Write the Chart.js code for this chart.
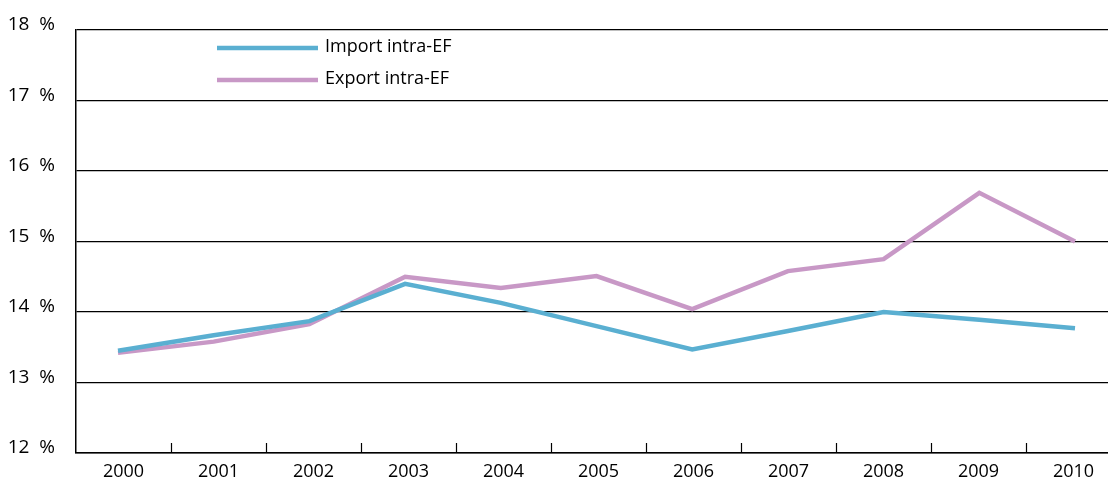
<!DOCTYPE html>
<html>
<head>
<meta charset="utf-8">
<script src="https://cdn.jsdelivr.net/npm/chart.js@4.4.1/dist/chart.umd.min.js"></script>
<style>
html,body{margin:0;padding:0;background:#fff;overflow:hidden;width:1108px;height:479px;}
#wrap{width:1121px;height:479px;position:relative;}
</style>
</head>
<body>
<div id="wrap"><canvas id="c"></canvas></div>
<script>
const years = ['2000','2001','2002','2003','2004','2005','2006','2007','2008','2009','2010'];
const importIntraEF = [13.45,13.67,13.87,14.40,14.13,13.80,13.47,13.73,14.00,13.89,13.77];
const exportIntraEF = [13.42,13.58,13.83,14.50,14.34,14.51,14.04,14.58,14.75,15.69,15.00];
const yTicks = [12,13,14,15,16,17,18];
const seriesNames = ['Import intra-EF','Export intra-EF'];
const colors = ['#5aafd1','#c898c6'];
const FONT = '"Open Sans", "Noto Sans", sans-serif';

const toPoints = arr => arr.map((v,i)=>({x:i, y:v}));

const customDraw = {
  id:'customDraw',
  afterDraw(chart){
    const {ctx, chartArea, scales} = chart;
    const x = scales.x;
    ctx.save();
    ctx.strokeStyle = '#000';
    ctx.lineWidth = 1.2;
    for(let i=1;i<years.length;i++){
      const px = Math.round((x.getPixelForValue(i-1)+x.getPixelForValue(i))/2)+0.5;
      ctx.beginPath();
      ctx.moveTo(px, chartArea.bottom);
      ctx.lineTo(px, chartArea.bottom-10);
      ctx.stroke();
    }
    const items = chart.data.datasets;
    const lx0 = 217, lx1 = 318, ly = [48, 80];
    ctx.font = '18px ' + FONT;
    ctx.textBaseline = 'middle';
    ctx.textAlign = 'left';
    items.forEach((ds,i)=>{
      ctx.strokeStyle = ds.borderColor;
      ctx.lineWidth = 4.5;
      ctx.beginPath();
      ctx.moveTo(lx0, ly[i]);
      ctx.lineTo(lx1, ly[i]);
      ctx.stroke();
      ctx.fillStyle = '#000';
      ctx.fillText(ds.label, 325, ly[i]-1);
    });
    ctx.restore();
  }
};

new Chart(document.getElementById('c'), {
  type:'line',
  data:{
    labels: years,
    datasets:[
      {label:seriesNames[0], data:toPoints(importIntraEF), xAxisID:'x2', borderColor:colors[0], backgroundColor:colors[0], borderWidth:4.5, pointRadius:0, tension:0, order:1},
      {label:seriesNames[1], data:toPoints(exportIntraEF), xAxisID:'x2', borderColor:colors[1], backgroundColor:colors[1], borderWidth:4.5, pointRadius:0, tension:0, order:2}
    ]
  },
  options:{
    responsive:true,
    maintainAspectRatio:false,
    animation:false,
    layout:{padding:{top:30,right:0,bottom:0,left:0}},
    plugins:{legend:{display:false}, tooltip:{enabled:false}},
    scales:{
      x:{
        type:'category',
        offset:true,
        grid:{display:false, offset:true, drawTicks:false},
        border:{display:true, color:'#000', width:1.5},
        afterFit(scale){ scale.height = 26; },
        ticks:{color:'#000', font:{family:FONT, size:18}, padding:8, maxRotation:0, autoSkip:false}
      },
      x2:{
        type:'linear',
        display:false,
        min:-0.4389,
        max:10.4806
      },
      y:{
        min:12, max:18,
        afterBuildTicks(scale){ scale.ticks = yTicks.map(v=>({value:v})); },
        afterFit(scale){ scale.width = 76; },
        grid:{color:'#000', lineWidth:1.2, drawTicks:true, tickLength:19, tickColor:'rgba(0,0,0,0)'},
        border:{display:true, color:'#000', width:1.5},
        ticks:{color:'#000', font:{family:FONT, size:19}, padding:2, labelOffset:-5, callback:v=>v+'  %'}
      }
    }
  },
  plugins:[customDraw]
});
</script>
</body>
</html>
